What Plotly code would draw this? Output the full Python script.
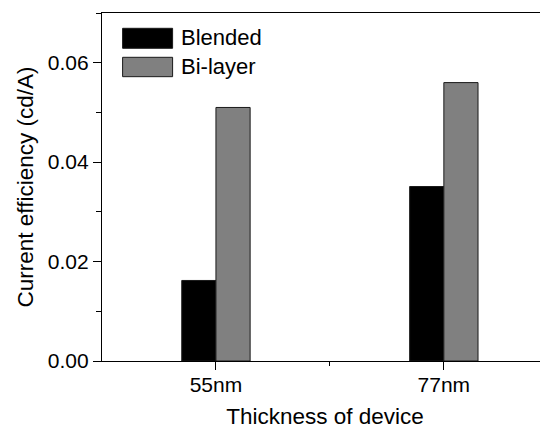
import plotly.graph_objects as go

categories = ["55nm", "77nm"]
blended = [0.0162, 0.0351]
bilayer = [0.051, 0.056]
series_names = ["Blended", "Bi-layer"]
series_colors = ["#000000", "#808080"]
y_ticks = [0.00, 0.02, 0.04, 0.06]

xpos = list(range(len(categories)))
FONT = "Liberation Sans, Arial, sans-serif"

fig = go.Figure()
for name, vals, col in zip(series_names, [blended, bilayer], series_colors):
    fig.add_trace(go.Bar(
        x=xpos, y=vals, name=name, showlegend=False,
        marker=dict(color=col, line=dict(color="#1a1a1a", width=1)),
    ))

# manual legend (wide swatches like the original)
leg_x0, leg_x1, leg_tx = 0.0462, 0.1583, 0.172
leg_rows = [(0.8986, 0.956, 0.929), (0.817, 0.8727, 0.847)]
for (y0, y1, yt), name, col in zip(leg_rows, series_names, series_colors):
    fig.add_shape(type="rect", xref="paper", yref="paper",
                  x0=leg_x0, x1=leg_x1, y0=y0, y1=y1,
                  fillcolor=col, line=dict(color="#1a1a1a", width=1))
    fig.add_annotation(xref="paper", yref="paper", x=leg_tx, y=yt,
                       text=name, showarrow=False, xanchor="left", yanchor="middle",
                       font=dict(family=FONT, size=22, color="#000"))

fig.update_layout(
    width=540, height=421,
    margin=dict(l=94, r=0, t=5, b=68, pad=0),
    paper_bgcolor="white", plot_bgcolor="white",
    barmode="group", bargap=0.7, bargroupgap=0,
    font=dict(family=FONT, size=21, color="#000"),
)
fig.update_xaxes(
    range=[-0.5, 1.457],
    tickmode="array", tickvals=xpos, ticktext=categories,
    ticks="outside", ticklen=8, tickwidth=1, tickcolor="#000",
    ticklabelstandoff=-3,
    minor=dict(tickmode="array", tickvals=[0.5], ticks="outside", ticklen=4, tickwidth=1, tickcolor="#000"),
    showline=True, linecolor="#000", linewidth=1.4, mirror=True,
    showgrid=False, zeroline=False,
    title=dict(text="Thickness of device", font=dict(size=22.5), standoff=14),
    tickfont=dict(size=21),
)
fig.update_yaxes(
    range=[0, 0.07],
    tickmode="array", tickvals=y_ticks, tickformat=".2f",
    ticks="outside", ticklen=8, tickwidth=1, tickcolor="#000",
    minor=dict(dtick=0.01, ticks="outside", ticklen=5, tickwidth=1, tickcolor="#000"),
    showline=True, linecolor="#000", linewidth=1.4,
    showgrid=False, zeroline=False,
    title=dict(text="Current efficiency (cd/A)", font=dict(size=22.5), standoff=7),
    tickfont=dict(size=21),
)

fig.write_html("out.html")
